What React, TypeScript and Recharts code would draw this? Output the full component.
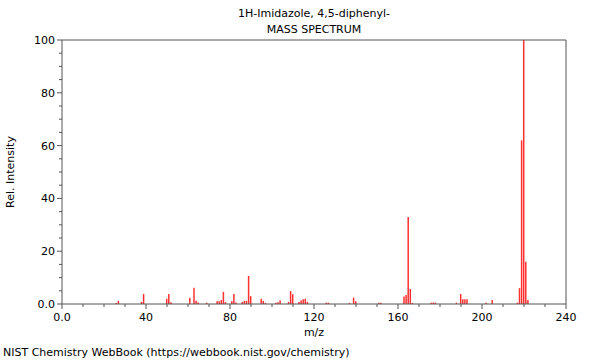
import React from 'react';
import { BarChart, Bar, XAxis, YAxis, ReferenceLine } from 'recharts';

const mzValues = [26, 27, 38, 39, 50, 51, 52, 61, 63, 64, 65, 69, 74, 75, 76, 77, 78, 81, 82, 83, 86, 87, 88, 89, 90, 95, 96, 97, 102, 103, 104, 108, 109, 110, 113, 114, 115, 116, 117, 126, 127, 137, 139, 140, 151, 152, 163, 164, 165, 166, 167, 176, 177, 178, 188, 190, 191, 192, 193, 202, 205, 217, 218, 219, 220, 221, 222];
const intensities = [0.4, 1.2, 0.8, 3.8, 2.0, 3.8, 0.7, 2.4, 6.2, 1.2, 0.6, 0.5, 1.0, 1.0, 1.5, 4.6, 0.7, 1.0, 3.8, 0.6, 0.8, 1.2, 1.2, 10.6, 3.0, 2.0, 1.2, 0.4, 0.5, 0.7, 1.3, 0.8, 4.9, 3.7, 0.8, 1.3, 1.8, 2.0, 0.8, 0.5, 0.5, 0.4, 2.4, 1.0, 0.5, 0.5, 2.8, 3.4, 33, 5.7, 0.4, 0.5, 0.6, 0.5, 0.5, 3.8, 1.8, 1.8, 1.8, 0.5, 1.5, 0.5, 6.0, 62, 100, 16, 1.5];

const xTicks = [0, 10, 20, 30, 40, 50, 60, 70, 80, 90, 100, 110, 120, 130, 140, 150, 160, 170, 180, 190, 200, 210, 220, 230, 240];
const yTicks = [0, 5, 10, 15, 20, 25, 30, 35, 40, 45, 50, 55, 60, 65, 70, 75, 80, 85, 90, 95, 100];

const titleLine1 = '1H-Imidazole, 4,5-diphenyl-';
const titleLine2 = 'MASS SPECTRUM';
const xLabel = 'm/z';
const yLabel = 'Rel. Intensity';
const footer = 'NIST Chemistry WebBook (https://webbook.nist.gov/chemistry)';

const data = mzValues.map((mz, i) => ({ mz, intensity: intensities[i] }));

const FONT = 'DejaVu Sans, sans-serif';
const AXIS = '#555';

const fmt = (v: number) => (v === 0 ? '0.0' : String(v));

const XTick = (props: any) => {
  const { x, y, payload } = props;
  const major = payload.value % 40 === 0;
  return (
    <g>
      <line x1={x} x2={x} y1={y} y2={y + (major ? 5 : 3)} stroke={AXIS} strokeWidth={1} />
      {major && (
        <text x={x} y={y + 17} textAnchor="middle" fontSize={11} fontFamily={FONT} fill="#000">
          {fmt(payload.value)}
        </text>
      )}
    </g>
  );
};

const YTick = (props: any) => {
  const { x, y, payload } = props;
  const major = payload.value % 20 === 0;
  return (
    <g>
      <line x1={x} x2={x - (major ? 5 : 3)} y1={y} y2={y} stroke={AXIS} strokeWidth={1} />
      {major && (
        <text x={x - 7} y={y + 4} textAnchor="end" fontSize={11} fontFamily={FONT} fill="#000">
          {fmt(payload.value)}
        </text>
      )}
    </g>
  );
};

export default function App() {
  return (
    <div style={{ position: 'absolute', left: 0, top: 0, width: 600, height: 360, fontFamily: FONT }}>
      <BarChart
        width={600}
        height={360}
        data={data}
        margin={{ top: 40, right: 34, bottom: 26, left: 0 }}
        barGap={0}
        barCategoryGap={0}
      >
        <XAxis
          dataKey="mz"
          type="number"
          domain={[0, 240]}
          ticks={xTicks}
          interval={0}
          tickLine={false}
          tickSize={0}
          tickMargin={0}
          tick={<XTick />}
          stroke={AXIS}
          height={30}
          allowDataOverflow
        />
        <YAxis
          type="number"
          domain={[0, 100]}
          ticks={yTicks}
          interval={0}
          tickLine={false}
          tickSize={0}
          tickMargin={0}
          tick={<YTick />}
          stroke={AXIS}
          width={62}
          allowDataOverflow
        />
        <ReferenceLine y={100} stroke={AXIS} strokeWidth={1} ifOverflow="extendDomain" />
        <ReferenceLine x={240} stroke={AXIS} strokeWidth={1} ifOverflow="extendDomain" />
        <Bar dataKey="intensity" fill="#ff3030" barSize={1.5} isAnimationActive={false} />
      </BarChart>
      <div style={{ position: 'absolute', left: 0, width: 628, top: 6, textAlign: 'center', fontSize: 11, lineHeight: '16px' }}>
        {titleLine1}
      </div>
      <div style={{ position: 'absolute', left: 0, width: 628, top: 22, textAlign: 'center', fontSize: 11, lineHeight: '16px' }}>
        {titleLine2}
      </div>
      <div style={{ position: 'absolute', left: 0, width: 628, top: 325, textAlign: 'center', fontSize: 11, lineHeight: '16px' }}>
        {xLabel}
      </div>
      <div
        style={{
          position: 'absolute',
          left: 11,
          top: 172,
          fontSize: 11,
          lineHeight: '14px',
          whiteSpace: 'nowrap',
          transform: 'translate(-50%, -50%) rotate(-90deg)',
        }}
      >
        {yLabel}
      </div>
      <div style={{ position: 'absolute', left: 3, top: 345, fontSize: 11, lineHeight: '16px', whiteSpace: 'nowrap' }}>
        {footer}
      </div>
    </div>
  );
}
